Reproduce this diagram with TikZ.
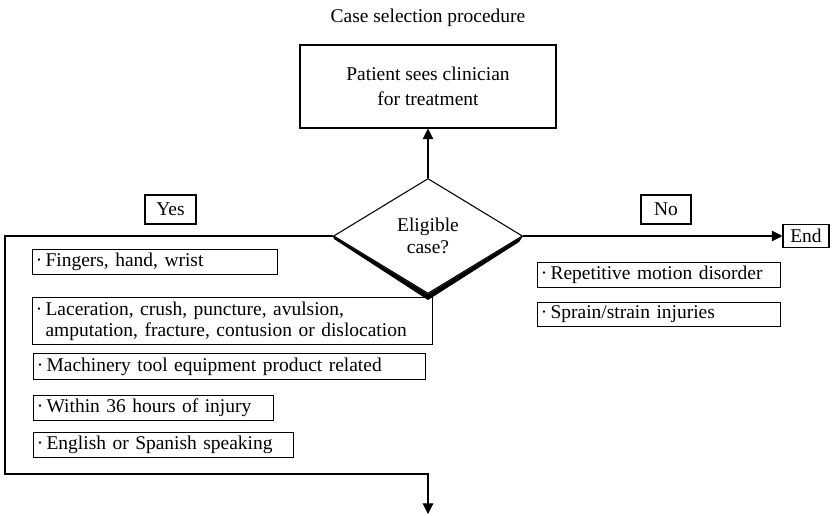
\documentclass[tikz,border=0pt]{standalone}
\usepackage{fontspec}
\setmainfont{Liberation Serif}
\usetikzlibrary{arrows.meta,positioning,shapes.geometric,calc}

\tikzset{
  critbox/.style={draw,line width=0.8pt,anchor=north west,align=left,inner xsep=2.5pt,inner ysep=0pt,text width=#1,minimum height=18.75pt},
  answer/.style={draw,line width=0.8pt,inner sep=0pt,minimum height=21.75pt},
  link/.style={line width=0.8pt},
  tip/.style={-{Triangle[length=8pt,width=8pt]}}
}

\begin{document}
\begin{tikzpicture}[x=0.75pt,y=-0.75pt,font=\fontsize{14.6}{17}\selectfont]
  \useasboundingbox (0,0) rectangle (835,516);
  % Title and first step
  \node (title) at (428,18) {Case selection procedure};
  \node[draw,link,minimum width=192pt,minimum height=62.25pt,align=center,font=\fontsize{14.6}{18.75}\selectfont] (visit) at (428,86.5) {Patient sees clinician\\for treatment};
  % Decision with its heavy lower edges
  \node[diamond,draw,link,minimum width=141.75pt,minimum height=86.25pt,inner sep=0pt,align=center] (elig) at (428,236) {Eligible\\case?};
  \fill (elig.west) -- (elig.south) -- (elig.east) -- ($(elig.east)+(-4,6)$) -- ($(elig.south)+(0,6)$) -- ($(elig.west)+(1,3)$) -- cycle;
  % Answers
  \node[answer,minimum width=38.25pt] (yes) at (170.5,209.5) {Yes};
  \node[answer,minimum width=37.5pt] (no) at (666,209.5) {No};
  \node[answer,minimum width=34.5pt,minimum height=17.25pt] (end) at (806,236) {End};
  % Inclusion criteria
  \node[critbox=178.75pt] (fingers) at (32,249) {·\,Fingers, hand, wrist};
  \node[critbox=295pt,minimum height=35.25pt,font=\fontsize{14.6}{15.5}\selectfont] (injury) at (32,297) {·\,Laceration, crush, puncture, avulsion,\\\phantom{·\,}amputation, fracture, contusion or dislocation};
  \node[critbox=289pt,minimum height=19.5pt] (machine) at (33,353) {·\,Machinery tool equipment product related};
  \node[critbox=175pt] (hours) at (33,395) {·\,Within 36 hours of injury};
  \node[critbox=190pt] (speak) at (33,432) {·\,English or Spanish speaking};
  % Exclusion criteria
  \node[critbox=177.25pt] (motion) at (537,262) {·\,Repetitive motion disorder};
  \node[critbox=177.25pt,minimum height=18pt] (sprain) at (537,302) {·\,Sprain/strain injuries};
  % Connectors
  \coordinate (next) at (428,514);
  \draw[link,tip] (elig.north) -- (visit.south);
  \draw[link,tip] (elig.east) -- (end.west);
  \draw[link,tip] (elig.west) -| (5,474) -| (next);
\end{tikzpicture}
\end{document}
